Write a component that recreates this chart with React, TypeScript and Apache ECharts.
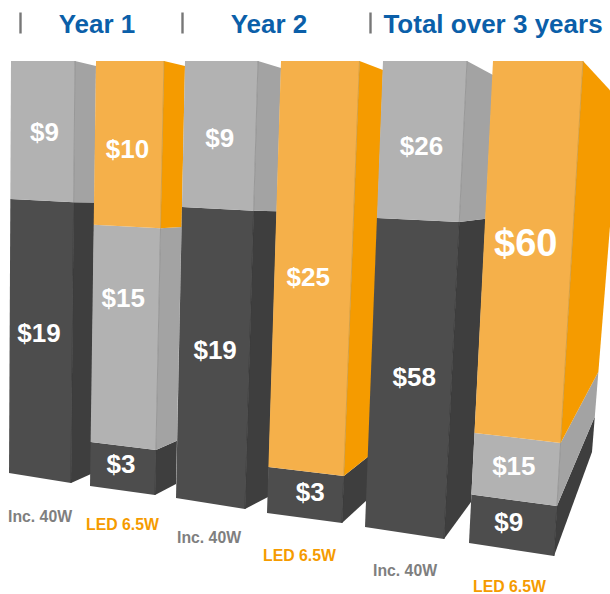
import React, { useEffect, useRef } from "react";
import * as echarts from "echarts";

const FONT = '"Liberation Sans", Arial, sans-serif';

// --- data ---
const categories = ["Inc. 40W", "LED 6.5W", "Inc. 40W", "LED 6.5W", "Inc. 40W", "LED 6.5W"];
const panelTitles = ["Year 1", "Year 2", "Total over 3 years"];
const darkValues = [19, 3, 19, 3, 58, 9];
const grayValues = [9, 15, 9, 0, 26, 15];
const orangeValues = [0, 10, 0, 25, 0, 60];

// --- layout: the picture is a hand-set 3D view, so each column has its own projection ---
type Frame = { tl: number[]; tr: number[]; bl: number[]; br: number[]; ft: number[]; fb: number[] };
const frames: Frame[] = [
  { tl: [11, 61], tr: [75, 61], bl: [9, 473], br: [71, 483], ft: [96, 66], fb: [91, 474] },
  { tl: [96, 61], tr: [164, 61], bl: [90, 486], br: [155, 495], ft: [185, 66], fb: [176, 484] },
  { tl: [185, 61], tr: [258, 61], bl: [176, 498], br: [245, 509], ft: [281, 68], fb: [268, 497] },
  { tl: [281, 61], tr: [359.5, 61], bl: [267, 513], br: [342, 523], ft: [383, 70], fb: [367, 500] },
  { tl: [383, 61], tr: [467, 61], bl: [365, 527], br: [444, 539], ft: [493, 75], fb: [471, 502] },
  { tl: [493, 61], tr: [583, 61], bl: [469, 543], br: [554, 556], ft: [620, 101], fb: [592, 452] },
];
// foreshortening of each stack layer (dark, gray, orange) in each column
const layerStretch = [
  [14.4, 15.3, 0],
  [14.7, 14.5, 16.4],
  [15.3, 16.2, 0],
  [15.3, 0, 16.2],
  [5.3, 6.0, 0],
  [5.4, 4.1, 6.2],
];
const labelNudge = [
  [[-2, -6], [2, 1], [0, 0]],
  [[-2, -4], [-2, -38], [-1, 5]],
  [[1, -6], [0, 3], [0, 0]],
  [[5, -3], [0, 0], [-5, 11]],
  [[3, 1], [0, 6], [0, 0]],
  [[-4, -3], [-2, -3], [-2, -6]],
];
const labelSlots = [
  [8, 516], [86, 524], [177, 537], [263, 555], [373, 570], [473, 586],
];
const titleCenters = [97, 269, 493];
const titleBarsX = [19.3, 181.3, 369.3];

const faceColors = [
  { front: "#4d4d4d", side: "#3e3e3e", edge: "#3a3a3a" },
  { front: "#b2b2b2", side: "#a3a3a3", edge: "#8e8e8e" },
  { front: "#f5b04a", side: "#f59b00", edge: "#c9983f" },
];
const layers = [darkValues, grayValues, orangeValues];

// one row per visible stack segment: column, layer, start and end share of the column
const rows: number[][] = [];
categories.forEach((_, col) => {
  const drawn = layers.map((l, i) => l[col] * layerStretch[col][i]);
  const total = drawn.reduce((a, b) => a + b, 0);
  let acc = 0;
  drawn.forEach((d, layer) => {
    if (!layers[layer][col]) return;
    rows.push([col, layer, acc / total, (acc + d) / total, layers[layer][col]]);
    acc += d;
  });
});

const mix = (a: number[], b: number[], t: number) => [a[0] + (b[0] - a[0]) * t, a[1] + (b[1] - a[1]) * t];

const renderItem = (params: any, api: any) => {
  const col = api.value(0);
  const layer = api.value(1);
  const value = api.value(4);
  const f = frames[col];
  const cs = params.coordSys;
  const share = (v: number) => 1 - (api.coord([col, v])[1] - cs.y) / cs.height;
  const v0 = share(api.value(2));
  const v1 = share(api.value(3));
  const L0 = mix(f.bl, f.tl, v0), L1 = mix(f.bl, f.tl, v1);
  const R0 = mix(f.br, f.tr, v0), R1 = mix(f.br, f.tr, v1);
  const F0 = mix(f.fb, f.ft, v0), F1 = mix(f.fb, f.ft, v1);
  const c = faceColors[layer];
  const nudge = labelNudge[col][layer];
  const big = value === 60;
  const cx = (L0[0] + L1[0] + R0[0] + R1[0]) / 4 + nudge[0];
  const cy = (L0[1] + L1[1] + R0[1] + R1[1]) / 4 + nudge[1];
  return {
    type: "group",
    children: [
      { type: "polygon", shape: { points: [R0, F0, F1, R1] }, style: { fill: c.side } },
      { type: "polygon", shape: { points: [L0, R0, R1, L1] }, style: { fill: c.front } },
      { type: "line", shape: { x1: R0[0], y1: R0[1], x2: R1[0], y2: R1[1] }, style: { stroke: c.edge, lineWidth: 0.8 } },
      {
        type: "text",
        style: {
          text: "$" + value,
          x: cx,
          y: cy,
          fill: "#ffffff",
          align: "center",
          verticalAlign: "middle",
          font: `bold ${big ? 38 : 26}px ${FONT}`,
        },
      },
    ],
  };
};

export default function App() {
  const ref = useRef<HTMLDivElement>(null);
  useEffect(() => {
    document.body.style.margin = "0";
    const chart = echarts.init(ref.current!, undefined, { renderer: "svg" });
    chart.setOption({
      animation: false,
      backgroundColor: "#ffffff",
      grid: { left: 0, right: 0, top: 0, bottom: 0 },
      xAxis: { type: "category", data: categories.map((_, i) => i), show: false },
      yAxis: { type: "value", min: 0, max: 1, show: false },
      series: [
        {
          type: "custom",
          renderItem,
          data: rows,
          encode: { x: 0, y: 3 },
          silent: true,
        },
      ],
      graphic: [
        ...panelTitles.map((t, i) => ({
          type: "text",
          style: {
            text: t,
            x: titleCenters[i],
            y: 24,
            fill: "#0b5fa9",
            align: "center",
            verticalAlign: "middle",
            font: `bold 26px ${FONT}`,
          },
        })),
        ...titleBarsX.map((x) => ({
          type: "rect",
          shape: { x, y: 12.5, width: 2.4, height: 21 },
          style: { fill: "#777777" },
        })),
        ...categories.map((t, i) => ({
          type: "text",
          style: {
            text: t,
            x: labelSlots[i][0],
            y: labelSlots[i][1],
            fill: i % 2 ? "#f59b00" : "#7f7f7f",
            align: "left",
            verticalAlign: "middle",
            font: `bold 15.8px ${FONT}`,
          },
        })),
      ],
    });
    return () => chart.dispose();
  }, []);
  return <div ref={ref} style={{ width: 610, height: 594, position: "absolute", left: 0, top: 0, overflow: "hidden" }} />;
}
